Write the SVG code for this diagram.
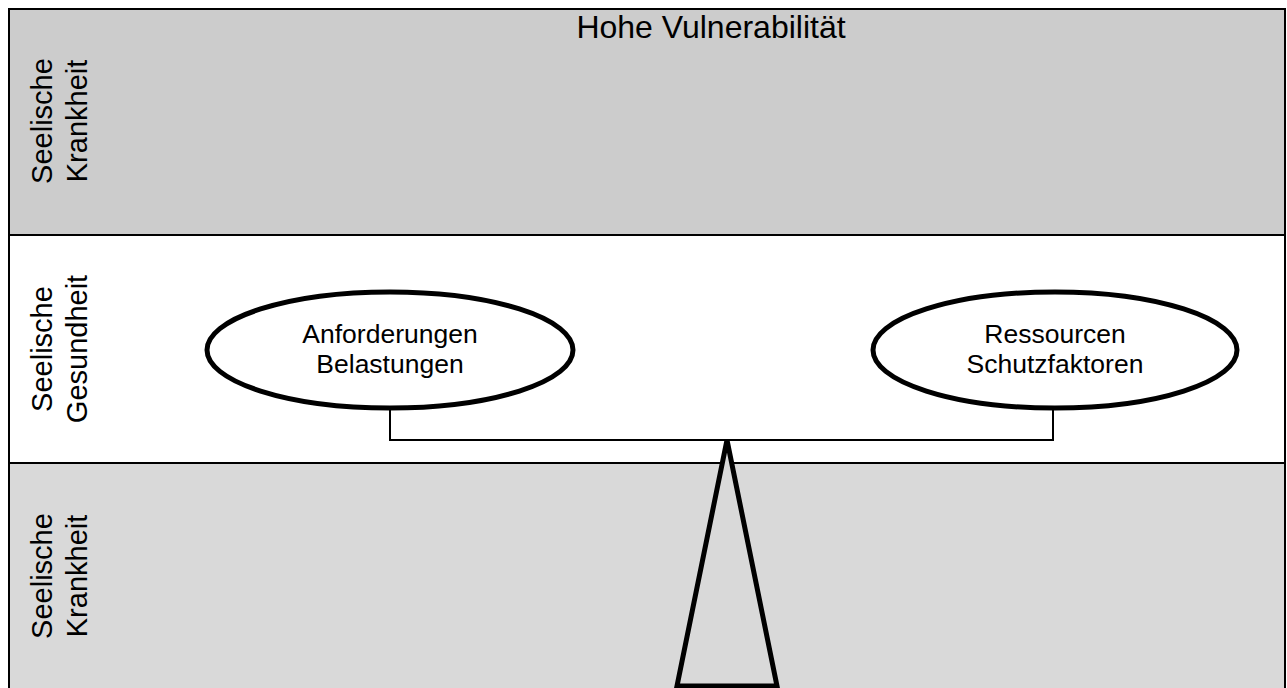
<svg xmlns="http://www.w3.org/2000/svg" width="1287" height="688" viewBox="0 0 1287 688">
  <style>
    text { font-family: "Liberation Sans", Arial, sans-serif; fill: #000; }
    .band-line { stroke: #000; stroke-width: 2; fill: none; }
    .side { font-size: 29px; text-anchor: middle; }
    .title { font-size: 32px; text-anchor: middle; }
    .node-shape { fill: #fff; stroke: #000; stroke-width: 5; }
    .node-text { font-size: 26.5px; text-anchor: middle; }
    .beam { stroke: #000; stroke-width: 2; fill: none; }
    .pivot { fill: #d9d9d9; stroke: #000; stroke-width: 5; }
  </style>

  <!-- background bands -->
  <g id="bands">
    <rect x="9" y="9" width="1276" height="226" fill="#cccccc"/>
    <rect x="9" y="235" width="1276" height="228" fill="#ffffff"/>
    <rect x="9" y="463" width="1276" height="230" fill="#d9d9d9"/>
    <line class="band-line" x1="9" y1="9" x2="1285" y2="9"/>
    <line class="band-line" x1="9" y1="8" x2="9" y2="688"/>
    <line class="band-line" x1="1285" y1="8" x2="1285" y2="688"/>
    <line class="band-line" x1="9" y1="235" x2="1285" y2="235"/>
    <line class="band-line" x1="9" y1="463" x2="1285" y2="463"/>
  </g>

  <!-- band labels -->
  <g id="title">
    <text class="title" x="711" y="38">Hohe Vulnerabilität</text>
  </g>
  <g id="label-top" transform="translate(52,121) rotate(-90)">
    <text class="side" x="0" y="0">Seelische</text>
    <text class="side" x="0" y="35">Krankheit</text>
  </g>
  <g id="label-middle" transform="translate(52,349) rotate(-90)">
    <text class="side" x="0" y="0">Seelische</text>
    <text class="side" x="0" y="35">Gesundheit</text>
  </g>
  <g id="label-bottom" transform="translate(52,576) rotate(-90)">
    <text class="side" x="0" y="0">Seelische</text>
    <text class="side" x="0" y="35">Krankheit</text>
  </g>

  <!-- balance beam -->
  <g id="connectors">
    <polyline class="beam" points="390,408 390,440 1053,440 1053,408"/>
  </g>

  <!-- pivot -->
  <g id="pivot">
    <polygon class="pivot" points="727,440 677,686 777,686"/>
  </g>

  <!-- weights -->
  <g id="node-demands">
    <ellipse class="node-shape" cx="390" cy="350" rx="183" ry="58"/>
    <text class="node-text" x="390" y="343">Anforderungen</text>
    <text class="node-text" x="390" y="373">Belastungen</text>
  </g>
  <g id="node-resources">
    <ellipse class="node-shape" cx="1055" cy="350" rx="182" ry="58"/>
    <text class="node-text" x="1055" y="343">Ressourcen</text>
    <text class="node-text" x="1055" y="373">Schutzfaktoren</text>
  </g>
</svg>
